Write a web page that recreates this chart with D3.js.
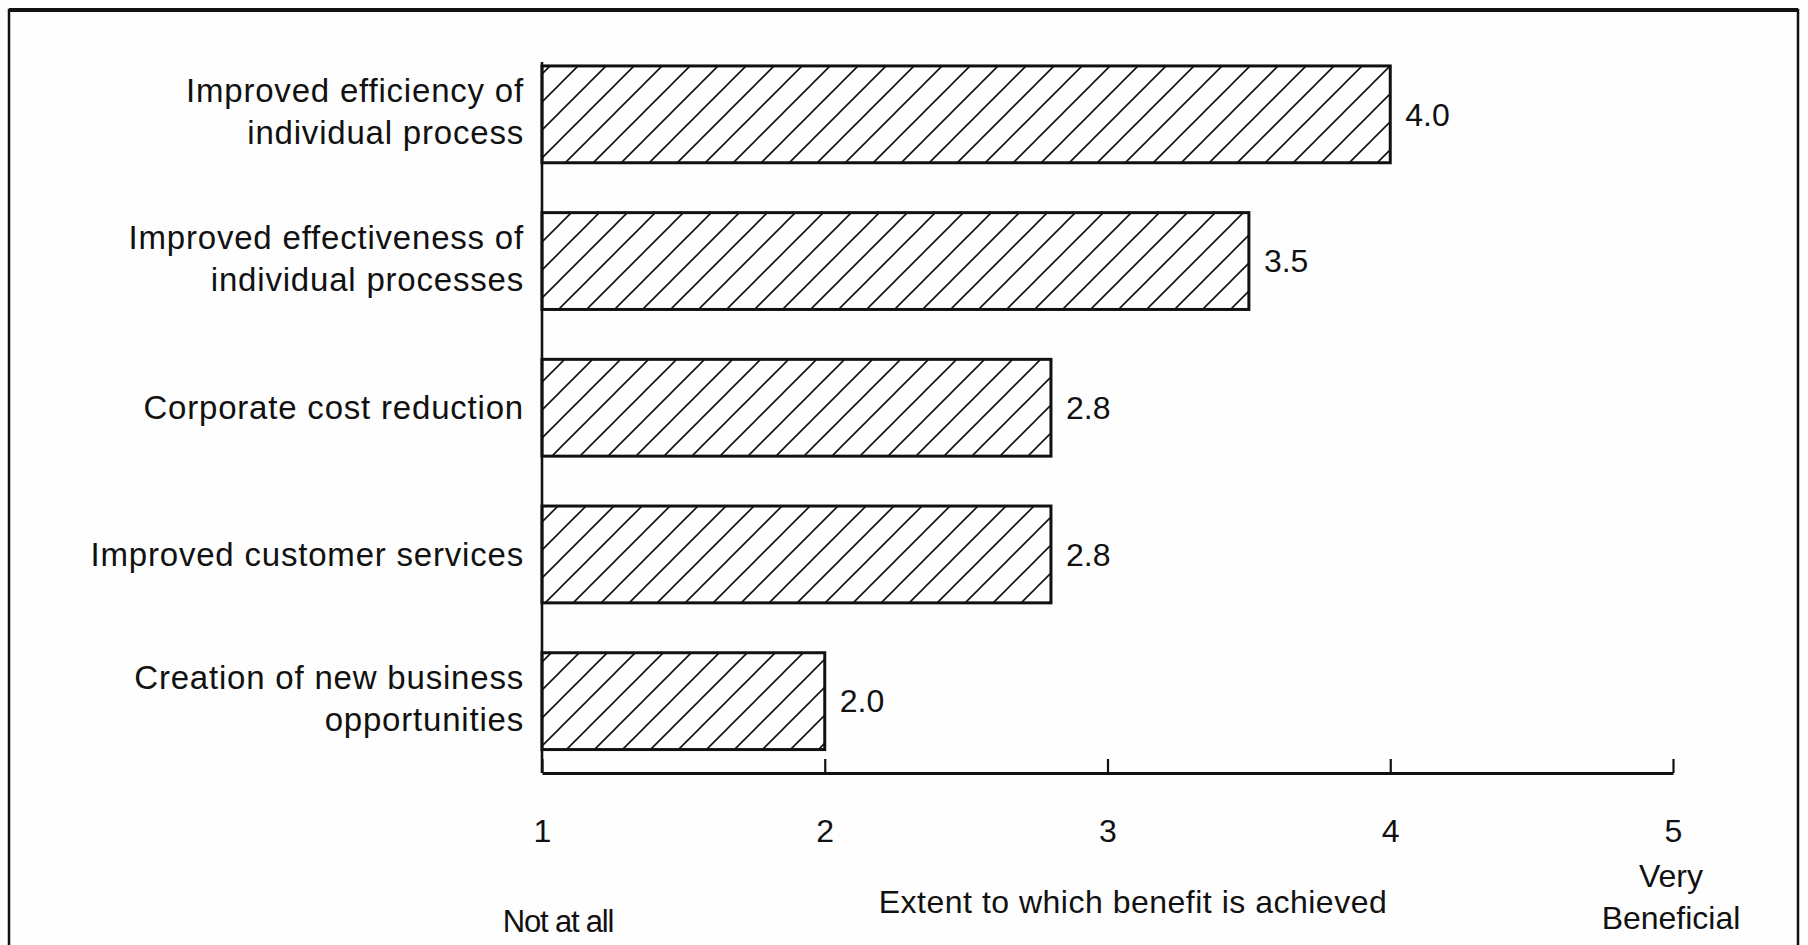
<!DOCTYPE html>
<html>
<head>
<meta charset="utf-8">
<script src="https://cdn.jsdelivr.net/npm/d3@7/dist/d3.min.js"></script>
<style>
  html, body { margin: 0; padding: 0; background: #ffffff; }
  svg { display: block; }
  text { font-family: "Liberation Sans", Arial, Helvetica, sans-serif; fill: #111; }
</style>
</head>
<body>
<svg id="chart" width="1808" height="945"></svg>
<script>
// Benefits and the extent to which each is achieved (1 = not at all, 5 = very beneficial)
const categories = [
  "Improved efficiency of\nindividual process",
  "Improved effectiveness of\nindividual processes",
  "Corporate cost reduction",
  "Improved customer services",
  "Creation of new business\nopportunities"
];
const values = [4.0, 3.5, 2.8, 2.8, 2.0];
const valueLabels = ["4.0", "3.5", "2.8", "2.8", "2.0"];
const tickValues = [1, 2, 3, 4, 5];
const tickLabels = ["1", "2", "3", "4", "5"];
const axisTitle = "Extent to which benefit is achieved";
const lowEndLabel = ["Not at all"];
const highEndLabel = ["Very", "Beneficial"];

const svg = d3.select("#chart");
const W = 1808, H = 945;

// page background and frame
svg.append("rect").attr("width", W).attr("height", H).attr("fill", "#fdfdfd");
svg.append("rect")
  .attr("x", 9).attr("y", 10).attr("width", 1789).attr("height", 980)
  .attr("fill", "#fefefe").attr("stroke", "#111").attr("stroke-width", 2.5);
svg.append("line")
  .attr("x1", 9).attr("x2", 1798).attr("y1", 10).attr("y2", 10)
  .attr("stroke", "#111").attr("stroke-width", 4);

// diagonal hatch fill
const defs = svg.append("defs");
const hs = 28;
const pat = defs.append("pattern")
  .attr("id", "hatch")
  .attr("patternUnits", "userSpaceOnUse")
  .attr("width", hs).attr("height", hs);
pat.append("path")
  .attr("d", `M0,${hs} L${hs},0 M${-hs / 4},${hs / 4} L${hs / 4},${-hs / 4} M${3 * hs / 4},${5 * hs / 4} L${5 * hs / 4},${3 * hs / 4}`)
  .attr("stroke", "#111").attr("stroke-width", 1.6).attr("fill", "none");

const x = d3.scaleLinear().domain([1, 5]).range([542, 1673]);
const y = d3.scaleBand().domain(categories).range([41, 774.5])
  .paddingInner(0.34).paddingOuter(0.17);
const axisY = 773;

// bars
svg.append("g").selectAll("rect")
  .data(values)
  .join("rect")
  .attr("x", x(1))
  .attr("y", (d, i) => y(categories[i]))
  .attr("width", d => x(d) - x(1))
  .attr("height", y.bandwidth())
  .attr("fill", "url(#hatch)")
  .attr("stroke", "#111")
  .attr("stroke-width", 3);

// value labels
svg.append("g").selectAll("text")
  .data(values)
  .join("text")
  .attr("x", d => x(d) + 15)
  .attr("y", (d, i) => y(categories[i]) + y.bandwidth() / 2)
  .attr("dy", "0.35em")
  .attr("font-size", 32)
  .text((d, i) => valueLabels[i]);

// vertical axis line and category labels
svg.append("line")
  .attr("x1", x(1)).attr("x2", x(1))
  .attr("y1", 62).attr("y2", axisY)
  .attr("stroke", "#111").attr("stroke-width", 2.6);

const yAxis = d3.axisLeft(y).tickSize(0).tickPadding(18);
const yg = svg.append("g").attr("transform", `translate(${x(1)},0)`).call(yAxis);
yg.select(".domain").remove();
yg.selectAll(".tick text")
  .attr("font-size", 33)
  .attr("letter-spacing", "0.8px")
  .attr("fill", "#111")
  .attr("font-family", null)
  .each(function (d) {
    const lines = d.split("\n");
    const t = d3.select(this).text(null).attr("dy", null);
    const lh = 42;
    const off = -(lines.length - 1) * lh / 2 - 3 * (lines.length - 1);
    lines.forEach((ln, k) => {
      t.append("tspan")
        .attr("x", -18)
        .attr("y", off + k * lh)
        .attr("dy", "0.35em")
        .text(ln);
    });
  });

// horizontal axis with upward ticks
const xAxis = d3.axisBottom(x)
  .tickValues(tickValues)
  .tickFormat((d, i) => tickLabels[i])
  .tickSize(-14)
  .tickSizeOuter(0)
  .tickPadding(46);
const xg = svg.append("g").attr("transform", `translate(0,${axisY})`).call(xAxis);
xg.select(".domain").attr("stroke", "#111").attr("stroke-width", 3);
xg.selectAll(".tick line").attr("stroke", "#111").attr("stroke-width", 2.2);
xg.selectAll(".tick text")
  .attr("font-size", 32)
  .attr("fill", "#111")
  .attr("font-family", null);

// axis title and scale end descriptions
svg.append("text")
  .attr("x", 1133).attr("y", 902).attr("dy", "0.35em")
  .attr("text-anchor", "middle").attr("font-size", 32).attr("letter-spacing", "0.5px")
  .text(axisTitle);

svg.append("text")
  .attr("x", 558).attr("y", 921).attr("dy", "0.35em")
  .attr("text-anchor", "middle").attr("font-size", 31).attr("letter-spacing", "-1.2px")
  .text(lowEndLabel[0]);

svg.append("g").selectAll("text")
  .data(highEndLabel)
  .join("text")
  .attr("x", x(5) - 2)
  .attr("y", (d, i) => 876 + i * 42)
  .attr("dy", "0.35em")
  .attr("text-anchor", "middle")
  .attr("font-size", 32)
  .text(d => d);
</script>
</body>
</html>
